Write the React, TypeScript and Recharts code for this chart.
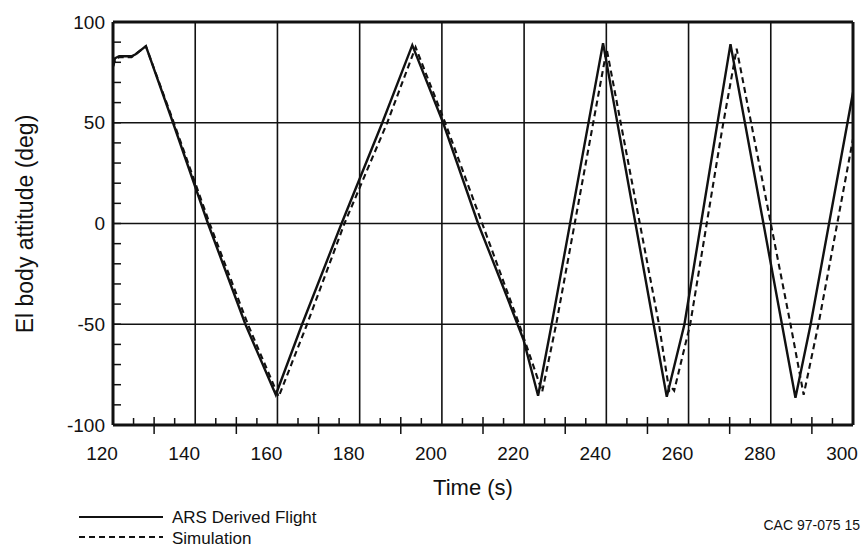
import * as React from "react";
import { LineChart, Line, XAxis, YAxis, ReferenceLine } from "recharts";

// time (s) / El body attitude (deg)
const FLIGHT_T = [
  120, 120.5, 121.5, 124.5, 125.5, 128, 134.6, 143.1, 152.2, 159.6, 166, 175.6, 185.5,
  192.8, 200.3, 208.8, 215, 219.9, 223.4, 226.7, 239.2, 251.5, 254.7,
  259, 266.8, 270.2, 286, 289.7, 300
];
const FLIGHT_DEG = [
  78, 82, 83, 83, 84, 88, 50, 0, -50, -85, -50, 0, 50,
  88.5, 50, 0, -32, -58, -85.5, -50, 89.5, -50, -86,
  -50, 47, 89, -86.5, -50, 65
];

const SIM_T = [
  120, 120.5, 121.5, 124.5, 125.5, 128, 134.8, 143.5, 152.8, 160.3, 167.2, 176.3, 186.7,
  193.6, 200.8, 209.8, 218.8, 224.4, 227.8, 240.1, 252.8, 255.3, 255.9, 256.5, 260.4,
  268.2, 271.7, 284.8, 288, 291.6, 300
];
const SIM_DEG = [
  78, 81, 82.5, 82.5, 84, 88, 50, 0, -50, -86, -50, 0, 50,
  87.5, 50, 0, -50, -83.5, -50, 86.5, -50, -83, -81.5, -83, -50,
  47, 86.7, -50, -85, -50, 42
];

const TIME_TICKS = [
  120, 125, 130, 135, 140, 145, 150, 155, 160, 165, 170, 175, 180, 185, 190, 195, 200,
  205, 210, 215, 220, 225, 230, 235, 240, 245, 250, 255, 260, 265, 270, 275, 280, 285,
  290, 295, 300
];
const DEG_TICKS = [-100, -90, -80, -70, -60, -50, -40, -30, -20, -10, 0, 10, 20, 30, 40, 50, 60, 70, 80, 90, 100];
const TIME_GRID = [140, 160, 180, 200, 220, 240, 260, 280];
const DEG_GRID = [-50, 0, 50];

const flight = FLIGHT_T.map((t, i) => ({ t, deg: FLIGHT_DEG[i] }));
const sim = SIM_T.map((t, i) => ({ t, deg: SIM_DEG[i] }));

const FONT = "'Liberation Sans', Arial, Helvetica, sans-serif";
const INK = "#111";

function YTick(props: any) {
  const { x, y, payload } = props;
  const v = payload.value as number;
  const edge = v === 100 || v === -100;
  return (
    <g>
      {!edge && <line x1={x} x2={x + 8} y1={y} y2={y} stroke={INK} strokeWidth={1.5} />}
      {v % 50 === 0 && (
        <text x={x - 8} y={y} textAnchor="end" dominantBaseline="central" fontSize={19} fontFamily={FONT} fill={INK}>
          {v}
        </text>
      )}
    </g>
  );
}

function XTick(props: any) {
  const { x, y, payload } = props;
  const v = payload.value as number;
  if (v % 20 === 0) {
    return (
      <text x={x - 11} y={y + 28} textAnchor="middle" dominantBaseline="central" fontSize={19} fontFamily={FONT} fill={INK}>
        {v}
      </text>
    );
  }
  if (v % 10 === 0) {
    return <line x1={x} x2={x} y1={y - 8} y2={y + 9} stroke={INK} strokeWidth={1.5} />;
  }
  return <line x1={x} x2={x} y1={y - 7} y2={y} stroke={INK} strokeWidth={1.5} />;
}

export default function App() {
  return (
    <div style={{ position: "absolute", left: 0, top: 0, width: 863, height: 546, background: "#fff", fontFamily: FONT }}>
      <LineChart width={863} height={546} data={flight} margin={{ top: 22, right: 10, bottom: 81, left: 53 }}>
        {TIME_GRID.map((g) => (
          <ReferenceLine key={`vx${g}`} x={g} stroke={INK} strokeWidth={1.6} />
        ))}
        {DEG_GRID.map((g) => (
          <ReferenceLine key={`hy${g}`} y={g} stroke={INK} strokeWidth={1.6} />
        ))}
        <ReferenceLine y={100} stroke={INK} strokeWidth={3} />
        <ReferenceLine x={300} stroke={INK} strokeWidth={3} />
        <XAxis
          dataKey="t"
          type="number"
          domain={[120, 300]}
          ticks={TIME_TICKS}
          interval={0}
          height={40}
          tickSize={0}
          tickMargin={0}
          tickLine={false}
          axisLine={{ stroke: INK, strokeWidth: 3 }}
          tick={<XTick />}
          allowDataOverflow
          label={{
            content: (p: any) => {
              const vb = p.viewBox;
              return (
                <text x={vb.x + vb.width / 2 - 10} y={487} textAnchor="middle" dominantBaseline="central" fontSize={22} fontFamily={FONT} fill={INK}>
                  Time (s)
                </text>
              );
            }
          }}
        />
        <YAxis
          type="number"
          domain={[-100, 100]}
          ticks={DEG_TICKS}
          interval={0}
          width={60}
          tickSize={0}
          tickMargin={0}
          tickLine={false}
          axisLine={{ stroke: INK, strokeWidth: 3 }}
          tick={<YTick />}
          allowDataOverflow
          label={{
            content: () => (
              <text
                x={25}
                y={224}
                transform="rotate(-90 25 224)"
                textAnchor="middle"
                dominantBaseline="central"
                fontSize={23}
                fontFamily={FONT}
                fill={INK}
              >
                El body attitude (deg)
              </text>
            )
          }}
        />
        <Line
          data={sim}
          dataKey="deg"
          type="linear"
          stroke={INK}
          strokeWidth={2.1}
          strokeDasharray="6 4"
          dot={false}
          isAnimationActive={false}
        />
        <Line
          data={flight}
          dataKey="deg"
          type="linear"
          stroke={INK}
          strokeWidth={2.4}
          dot={false}
          isAnimationActive={false}
        />
      </LineChart>
      <svg width={863} height={546} style={{ position: "absolute", left: 0, top: 0, pointerEvents: "none" }}>
        <line x1={79} x2={163} y1={517} y2={517} stroke={INK} strokeWidth={2} />
        <text x={172} y={517} dominantBaseline="central" fontSize={17} fontFamily={FONT} fill={INK}>
          ARS Derived Flight
        </text>
        <line x1={79} x2={163} y1={537} y2={537} stroke={INK} strokeWidth={2} strokeDasharray="6 4" />
        <text x={172} y={538} dominantBaseline="central" fontSize={17} fontFamily={FONT} fill={INK}>
          Simulation
        </text>
        <text x={860} y={525} textAnchor="end" dominantBaseline="central" fontSize={14} fontFamily={FONT} fill={INK}>
          CAC 97-075 15
        </text>
      </svg>
    </div>
  );
}
